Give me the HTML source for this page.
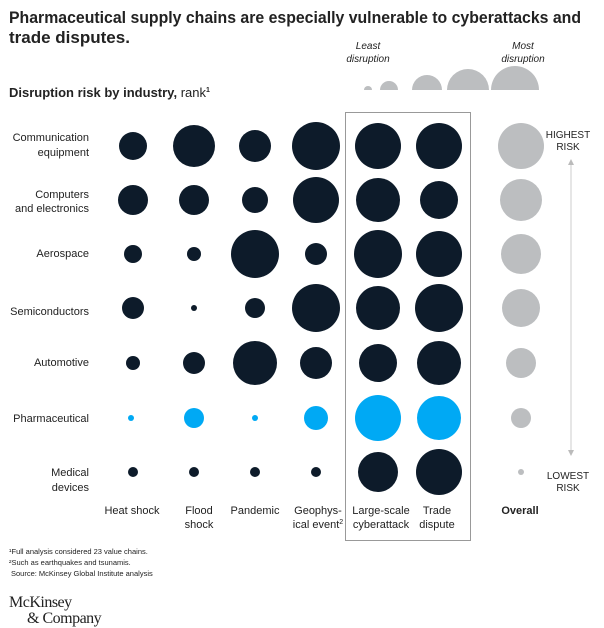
<!DOCTYPE html><html><head><meta charset="utf-8"><style>body{margin:0;background:#fff}svg{display:block}text{font-family:"Liberation Sans",sans-serif;fill:#222}</style></head><body>
<svg width="604" height="628" viewBox="0 0 604 628">
<text x="9" y="23" font-size="17" font-weight="bold" fill="#111" textLength="572" lengthAdjust="spacingAndGlyphs">Pharmaceutical supply chains are especially vulnerable to cyberattacks and</text>
<text x="9" y="43" font-size="17" font-weight="bold" fill="#111">trade disputes.</text>
<text x="9" y="97" font-size="13" font-weight="bold" fill="#111">Disruption risk by industry, <tspan font-weight="normal">rank</tspan><tspan font-size="7" dy="-5">1</tspan></text>
<g font-size="10" font-style="italic" text-anchor="middle" fill="#444"><text x="368" y="49">Least</text><text x="368" y="62">disruption</text><text x="523" y="49">Most</text><text x="523" y="62">disruption</text></g>
<g fill="#bcbec0"><path d="M364 90a4 4 0 0 1 8 0z"/><path d="M380 90a9 9 0 0 1 18 0z"/><path d="M412 90a15 15 0 0 1 30 0z"/><path d="M447 90a21 21 0 0 1 42 0z"/><path d="M491 90a24 24 0 0 1 48 0z"/></g>
<rect x="345.5" y="112.5" width="125" height="428" fill="none" stroke="#999" stroke-width="1"/>
<g font-size="11" text-anchor="end" fill="#333">
<text x="89" y="141">Communication</text><text x="89" y="156">equipment</text>
<text x="89" y="198">Computers</text><text x="89" y="212">and electronics</text>
<text x="89" y="257">Aerospace</text>
<text x="89" y="315">Semiconductors</text>
<text x="89" y="366">Automotive</text>
<text x="89" y="422">Pharmaceutical</text>
<text x="89" y="476">Medical</text><text x="89" y="491">devices</text></g>
<g fill="#0d1b2a">
<circle cx="133" cy="146" r="14"/><circle cx="194" cy="146" r="21"/><circle cx="255" cy="146" r="16"/><circle cx="316" cy="146" r="24"/><circle cx="378" cy="146" r="23"/><circle cx="439" cy="146" r="23"/>
<circle cx="133" cy="200" r="15"/><circle cx="194" cy="200" r="15"/><circle cx="255" cy="200" r="13"/><circle cx="316" cy="200" r="23"/><circle cx="378" cy="200" r="22"/><circle cx="439" cy="200" r="19"/>
<circle cx="133" cy="254" r="9"/><circle cx="194" cy="254" r="7"/><circle cx="255" cy="254" r="24"/><circle cx="316" cy="254" r="11"/><circle cx="378" cy="254" r="24"/><circle cx="439" cy="254" r="23"/>
<circle cx="133" cy="308" r="11"/><circle cx="194" cy="308" r="3"/><circle cx="255" cy="308" r="10"/><circle cx="316" cy="308" r="24"/><circle cx="378" cy="308" r="22"/><circle cx="439" cy="308" r="24"/>
<circle cx="133" cy="363" r="7"/><circle cx="194" cy="363" r="11"/><circle cx="255" cy="363" r="22"/><circle cx="316" cy="363" r="16"/><circle cx="378" cy="363" r="19"/><circle cx="439" cy="363" r="22"/>
<circle cx="133" cy="472" r="5"/><circle cx="194" cy="472" r="5"/><circle cx="255" cy="472" r="5"/><circle cx="316" cy="472" r="5"/><circle cx="378" cy="472" r="20"/><circle cx="439" cy="472" r="23"/></g>
<g fill="#00a9f4"><circle cx="131" cy="418" r="3"/><circle cx="194" cy="418" r="10"/><circle cx="255" cy="418" r="3"/><circle cx="316" cy="418" r="12"/><circle cx="378" cy="418" r="23"/><circle cx="439" cy="418" r="22"/></g>
<g fill="#bcbec0"><circle cx="521" cy="146" r="23"/><circle cx="521" cy="200" r="21"/><circle cx="521" cy="254" r="20"/><circle cx="521" cy="308" r="19"/><circle cx="521" cy="363" r="15"/><circle cx="521" cy="418" r="10"/><circle cx="521" cy="472" r="3"/></g>
<line x1="571" y1="165" x2="571" y2="450" stroke="#ccc"/><path d="M568 165l3-6 3 6z M568 450l3 6 3-6z" fill="#bbb"/>
<g font-size="10" text-anchor="middle" fill="#333"><text x="568" y="138">HIGHEST</text><text x="568" y="150">RISK</text><text x="568" y="479">LOWEST</text><text x="568" y="491">RISK</text></g>
<g font-size="11" text-anchor="middle" fill="#333">
<text x="132" y="514">Heat shock</text><text x="199" y="514">Flood</text><text x="199" y="528">shock</text><text x="255" y="514">Pandemic</text>
<text x="318" y="514">Geophys-</text><text x="318" y="528">ical event<tspan font-size="7" dy="-4">2</tspan></text>
<text x="381" y="514">Large-scale</text><text x="381" y="528">cyberattack</text><text x="437" y="514">Trade</text><text x="437" y="528">dispute</text>
<text x="520" y="514" font-weight="bold" fill="#111">Overall</text></g>
<g font-size="7.5" fill="#555"><text x="9" y="554">¹Full analysis considered 23 value chains.</text><text x="9" y="565">²Such as earthquakes and tsunamis.</text><text x="11" y="576">Source: McKinsey Global Institute analysis</text></g>
<g font-size="16" fill="#111"><text x="9" y="607" style="font-family:'Liberation Serif',serif;letter-spacing:-0.5px">McKinsey</text><text x="27" y="623" style="font-family:'Liberation Serif',serif;letter-spacing:-0.5px">&amp; Company</text></g>
</svg></body></html>
